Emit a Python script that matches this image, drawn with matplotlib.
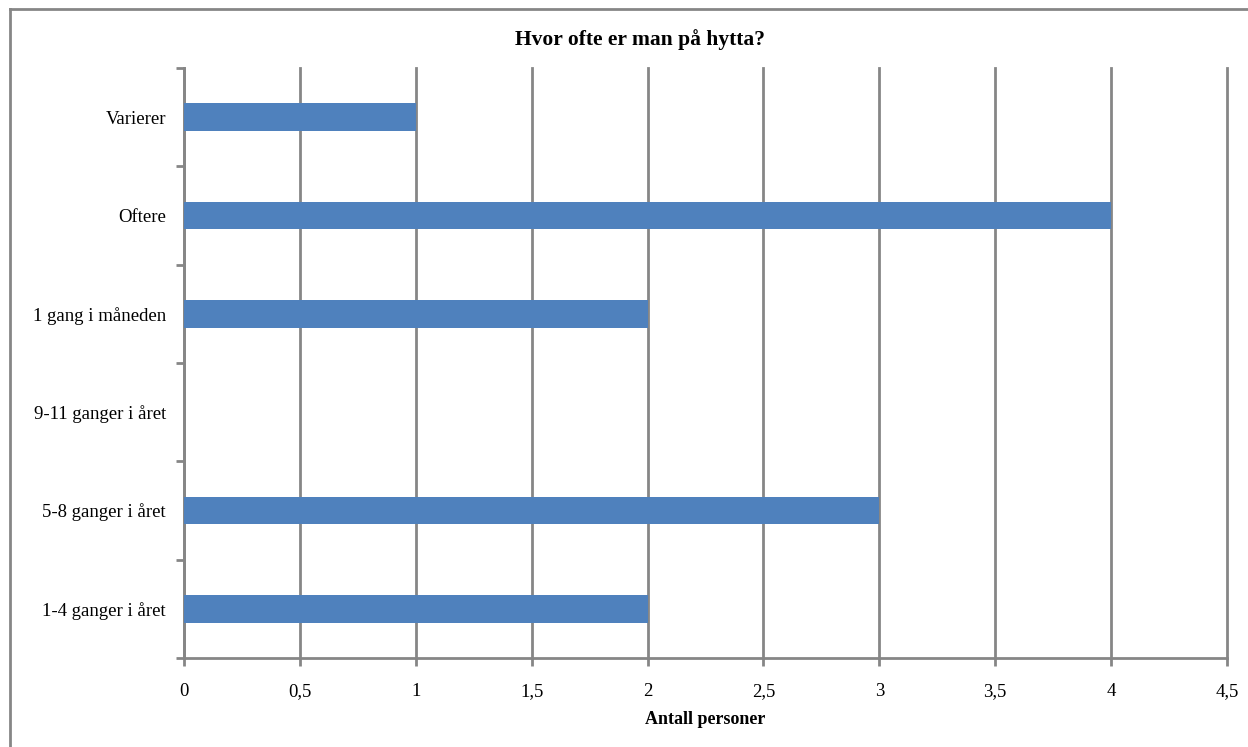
import numpy as np
import matplotlib.pyplot as plt
from matplotlib.lines import Line2D

categories = ['1-4 ganger i året', '5-8 ganger i året', '9-11 ganger i året',
              '1 gang i måneden', 'Oftere', 'Varierer']
values = [2, 3, 0, 2, 4, 1]
xticks = [0, 0.5, 1, 1.5, 2, 2.5, 3, 3.5, 4, 4.5]
xticklabels = ['0', '0,5', '1', '1,5', '2', '2,5', '3', '3,5', '4', '4,5']

plt.rcParams['font.family'] = ['Liberation Serif', 'DejaVu Serif']
grey = '#868686'

fig = plt.figure(figsize=(12.48, 7.47), dpi=100)
ax = fig.add_axes([184/1248, 1-658/747, (1227-184)/1248, (658-68)/747])

y = np.arange(len(categories))
ax.barh(y, values, height=0.28, color='#4F81BD', zorder=3)

ax.set_xlim(0, 4.5)
ax.set_ylim(-0.5, len(categories)-0.5)
ax.set_xticks(xticks)
ax.set_xticklabels(xticklabels, fontsize=13.5)
ax.set_yticks(y)
ax.set_yticklabels(categories, fontsize=13.5)
ax.set_yticks(np.arange(len(categories)+1)-0.5, minor=True)
ax.tick_params(axis='y', which='major', length=0, pad=13)
ax.tick_params(axis='y', which='minor', length=6, width=2, color=grey)
ax.tick_params(axis='x', length=6, width=2, color=grey, pad=12)

ax.grid(axis='x', color=grey, linewidth=2, zorder=0)
for gl in ax.get_xgridlines():
    gl.set_clip_on(False)
for s in ['top', 'right']:
    ax.spines[s].set_visible(False)
for s in ['left', 'bottom']:
    ax.spines[s].set_color(grey)
    ax.spines[s].set_linewidth(2)

ax.set_xlabel('Antall personer', fontsize=13, fontweight='bold', labelpad=8)
fig.text(640/1248, 1-40/747, 'Hvor ofte er man på hytta?', fontsize=15.5,
         fontweight='bold', ha='center', va='center')

# chart area border (only top and left visible)
fig.add_artist(Line2D([10/1248, 1], [1-9/747, 1-9/747], color=grey, linewidth=2,
                      transform=fig.transFigure))
fig.add_artist(Line2D([10/1248, 10/1248], [0, 1-9/747], color=grey, linewidth=2,
                      transform=fig.transFigure))

fig.savefig('out.png', dpi=100)
